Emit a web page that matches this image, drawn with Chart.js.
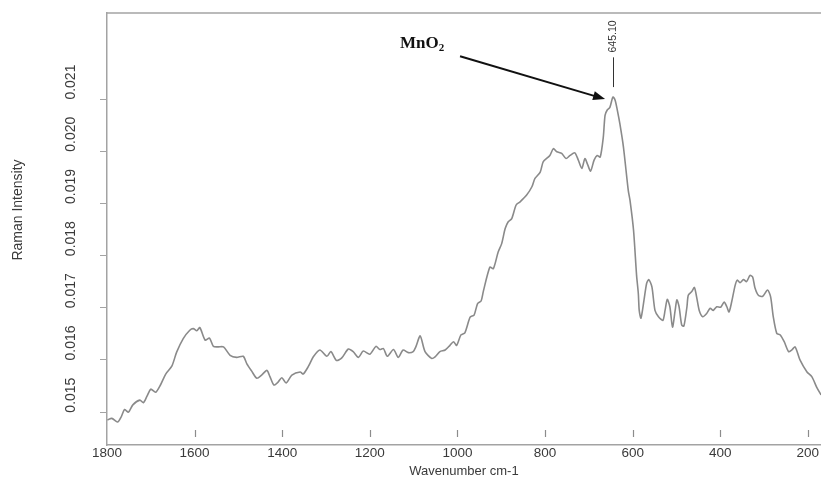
<!DOCTYPE html>
<html>
<head>
<meta charset="utf-8">
<title>Raman spectrum - MnO2</title>
<script src="https://cdn.jsdelivr.net/npm/chart.js@4.4.1/dist/chart.umd.min.js"></script>
<style>
  html, body { margin: 0; padding: 0; background: #fff; }
  #wrap { width: 821px; height: 479px; }
</style>
</head>
<body>
<div id="wrap"><canvas id="ramanChart" width="821" height="479"></canvas></div>
<script>
// ==================== DATA ====================
const wavenumbers = [
  1799, 1789, 1776, 1767, 1760, 1751, 1741, 1725, 1717, 1709,
  1700, 1689, 1678, 1666, 1652, 1641, 1626, 1611, 1603, 1595,
  1588, 1576, 1566, 1557, 1546, 1534, 1519, 1504, 1489, 1481,
  1470, 1458, 1447, 1435, 1428, 1419, 1409, 1401, 1391, 1378,
  1359, 1352, 1340, 1329, 1314, 1298, 1289, 1276, 1264, 1249,
  1238, 1226, 1215, 1200, 1186, 1177, 1169, 1160, 1146, 1135,
  1124, 1112, 1101, 1095, 1085, 1074, 1059, 1051, 1040, 1028,
  1017, 1009, 1002, 992, 983, 971, 962, 954, 946, 941,
  926, 918, 907, 899, 891, 884, 876, 866, 857, 842,
  830, 823, 811, 804, 789, 781, 773, 762, 752, 743,
  732, 724, 716, 709, 703, 696, 688, 681, 674, 667,
  663, 658, 652, 645, 640, 635, 629, 621, 610, 606,
  598, 591, 587, 585, 581, 574, 568, 563, 556, 549,
  541, 531, 526, 521, 515, 509, 503, 499, 494, 488,
  483, 476, 473, 465, 459, 454, 448, 440, 431, 423,
  416, 408, 399, 391, 385, 380, 374, 366, 361, 355,
  347, 340, 332, 326, 321, 313, 303, 292, 285, 279,
  271, 263, 254, 244, 237, 229, 218, 202, 191, 180,
  170
];
const intensities = [
  0.01485, 0.01488, 0.01481, 0.01492, 0.01505, 0.01500, 0.01514, 0.01523, 0.01518, 0.01530,
  0.01544, 0.01538, 0.01552, 0.01573, 0.01588, 0.01615, 0.01641, 0.01657, 0.01660, 0.01656,
  0.01662, 0.01638, 0.01642, 0.01626, 0.01625, 0.01625, 0.01609, 0.01605, 0.01607, 0.01593,
  0.01579, 0.01565, 0.01571, 0.01580, 0.01568, 0.01552, 0.01558, 0.01566, 0.01556, 0.01571,
  0.01577, 0.01573, 0.01588, 0.01606, 0.01619, 0.01607, 0.01616, 0.01599, 0.01604, 0.01621,
  0.01616, 0.01605, 0.01617, 0.01611, 0.01626, 0.01620, 0.01622, 0.01607, 0.01620, 0.01605,
  0.01619, 0.01614, 0.01616, 0.01625, 0.01646, 0.01616, 0.01603, 0.01606, 0.01616, 0.01619,
  0.01628, 0.01635, 0.01628, 0.01648, 0.01652, 0.01682, 0.01686, 0.01708, 0.01713, 0.01731,
  0.01778, 0.01775, 0.01807, 0.01823, 0.01852, 0.01865, 0.01871, 0.01897, 0.01903, 0.01916,
  0.01932, 0.01948, 0.01960, 0.01980, 0.01992, 0.02005, 0.01999, 0.01996, 0.01986, 0.01992,
  0.01997, 0.01983, 0.01967, 0.01986, 0.01975, 0.01962, 0.01983, 0.01992, 0.01989, 0.02027,
  0.02069, 0.02079, 0.02084, 0.02104, 0.02098, 0.02079, 0.02052, 0.02008, 0.01925, 0.01906,
  0.01849, 0.01762, 0.01727, 0.01695, 0.01680, 0.01715, 0.01747, 0.01754, 0.01740, 0.01695,
  0.01683, 0.01676, 0.01695, 0.01716, 0.01702, 0.01663, 0.01695, 0.01715, 0.01702, 0.01667,
  0.01665, 0.01702, 0.01724, 0.01731, 0.01739, 0.01721, 0.01695, 0.01683, 0.01689, 0.01699,
  0.01695, 0.01702, 0.01701, 0.01711, 0.01702, 0.01692, 0.01711, 0.01743, 0.01753, 0.01748,
  0.01754, 0.01750, 0.01762, 0.01759, 0.01739, 0.01724, 0.01722, 0.01734, 0.01721, 0.01683,
  0.01651, 0.01648, 0.01635, 0.01616, 0.01619, 0.01625, 0.01600, 0.01577, 0.01568, 0.01548,
  0.01533
];
const xTickValues = [1800, 1600, 1400, 1200, 1000, 800, 600, 400, 200];
const yTickValues = [0.015, 0.016, 0.017, 0.018, 0.019, 0.020, 0.021];
const xRange = [170, 1800];
const yRange = [0.01437, 0.02265];

// annotation : MnO2 arrow and peak marker (data units)
const peakWavenumber = 645.10;
const peakMarker = [0.02123, 0.0218];   // bottom / top of the marker line
const peakLabelAt = 0.0222;
const arrowFrom = [994, 0.02182];
const arrowTo = [663, 0.0210];
const mnLabelAt = [1131, 0.02209];

// ==================== STYLE ====================
const AXIS_COLOR = '#a3a3a3';
const TEXT_COLOR = '#3a3a3a';
const LINE_COLOR = '#8a8a8a';
const SANS = '"Liberation Sans", Arial, sans-serif';

// tick marks, frame, y title and annotation are drawn here
const spectrumDecor = {
  id: 'spectrumDecor',
  afterDraw(chart) {
    const { ctx, chartArea: area, scales: { x, y } } = chart;
    ctx.save();

    // top frame line
    ctx.strokeStyle = AXIS_COLOR;
    ctx.lineWidth = 1.5;
    ctx.beginPath();
    ctx.moveTo(area.left, area.top);
    ctx.lineTo(area.right, area.top);
    ctx.stroke();

    // x tick marks sit inside the frame, a little above the axis
    ctx.strokeStyle = '#8c8c8c';
    ctx.lineWidth = 1.2;
    xTickValues.forEach(v => {
      if (v === xRange[1]) return;
      const px = Math.round(x.getPixelForValue(v)) + 0.5;
      ctx.beginPath();
      ctx.moveTo(px, area.bottom - 15);
      ctx.lineTo(px, area.bottom - 8);
      ctx.stroke();
    });

    // y axis title
    ctx.fillStyle = TEXT_COLOR;
    ctx.font = '14px ' + SANS;
    ctx.textAlign = 'center';
    ctx.textBaseline = 'middle';
    ctx.save();
    ctx.translate(18, (area.top + area.bottom) / 2 - 19);
    ctx.rotate(-Math.PI / 2);
    ctx.fillText('Raman Intensity', 0, 0);
    ctx.restore();

    // peak marker line + label
    const pk = Math.round(x.getPixelForValue(peakWavenumber)) + 0.5;
    ctx.strokeStyle = '#333';
    ctx.lineWidth = 1;
    ctx.beginPath();
    ctx.moveTo(pk, y.getPixelForValue(peakMarker[0]));
    ctx.lineTo(pk, y.getPixelForValue(peakMarker[1]));
    ctx.stroke();
    ctx.save();
    ctx.translate(pk, y.getPixelForValue(peakLabelAt));
    ctx.rotate(-Math.PI / 2);
    ctx.font = '10.5px ' + SANS;
    ctx.fillStyle = '#333';
    ctx.fillText(peakWavenumber.toFixed(2), 0, 0);
    ctx.restore();

    // arrow
    const x0 = x.getPixelForValue(arrowFrom[0]), y0 = y.getPixelForValue(arrowFrom[1]);
    const x1 = x.getPixelForValue(arrowTo[0]), y1 = y.getPixelForValue(arrowTo[1]);
    const ang = Math.atan2(y1 - y0, x1 - x0);
    const head = 12, half = 4.5;
    ctx.strokeStyle = '#111';
    ctx.fillStyle = '#111';
    ctx.lineWidth = 2;
    ctx.beginPath();
    ctx.moveTo(x0, y0);
    ctx.lineTo(x1 - head * 0.8 * Math.cos(ang), y1 - head * 0.8 * Math.sin(ang));
    ctx.stroke();
    ctx.beginPath();
    ctx.moveTo(x1, y1);
    ctx.lineTo(x1 - head * Math.cos(ang) + half * Math.sin(ang), y1 - head * Math.sin(ang) - half * Math.cos(ang));
    ctx.lineTo(x1 - head * Math.cos(ang) - half * Math.sin(ang), y1 - head * Math.sin(ang) + half * Math.cos(ang));
    ctx.closePath();
    ctx.fill();

    // MnO2 label (subscript drawn smaller)
    const lx = x.getPixelForValue(mnLabelAt[0]), ly = y.getPixelForValue(mnLabelAt[1]);
    ctx.textAlign = 'left';
    ctx.textBaseline = 'alphabetic';
    ctx.font = 'bold 17px "Liberation Serif", "Times New Roman", serif';
    ctx.fillText('MnO', lx, ly + 6);
    const w = ctx.measureText('MnO').width;
    ctx.font = 'bold 11px "Liberation Serif", "Times New Roman", serif';
    ctx.fillText('2', lx + w, ly + 9);

    ctx.restore();
  }
};

// ==================== CHART ====================
const ctx = document.getElementById('ramanChart').getContext('2d');
const chart = new Chart(ctx, {
  type: 'line',
  data: {
    datasets: [{
      label: 'Raman Intensity',
      data: wavenumbers.map((w, i) => ({ x: w, y: intensities[i] })),
      borderColor: LINE_COLOR,
      borderWidth: 1.6,
      pointRadius: 0,
      tension: 0.25,
      fill: false
    }]
  },
  options: {
    responsive: false,
    animation: false,
    devicePixelRatio: 1,
    layout: { padding: { top: 13, left: 0, right: 0, bottom: 0 } },
    plugins: {
      legend: { display: false },
      tooltip: { enabled: false }
    },
    scales: {
      x: {
        type: 'linear',
        reverse: true,
        min: xRange[0],
        max: xRange[1],
        afterBuildTicks: s => { s.ticks = xTickValues.map(value => ({ value })); },
        afterFit: s => { s.height = 34; s.paddingLeft = 0; s.paddingRight = 0; },
        border: { display: true, color: AXIS_COLOR, width: 1.5 },
        grid: { display: true, drawOnChartArea: false, drawTicks: false },
        ticks: {
          autoSkip: false,
          maxRotation: 0,
          padding: 0,
          color: TEXT_COLOR,
          font: { family: SANS, size: 13.5 },
          callback: v => String(v)
        },
        title: {
          display: true,
          text: 'Wavenumber cm-1',
          color: TEXT_COLOR,
          font: { family: SANS, size: 13 },
          padding: { top: 0, bottom: 0 }
        }
      },
      y: {
        type: 'linear',
        min: yRange[0],
        max: yRange[1],
        afterBuildTicks: s => { s.ticks = yTickValues.map(value => ({ value })); },
        afterFit: s => { s.width = 107; s.paddingTop = 0; s.paddingBottom = 0; },
        border: { display: true, color: AXIS_COLOR, width: 1.5 },
        grid: { display: true, drawOnChartArea: false, drawTicks: true, tickLength: 7, color: AXIS_COLOR },
        ticks: {
          minRotation: 90,
          maxRotation: 90,
          crossAlign: 'center',
          padding: 11,
          labelOffset: -17,
          color: TEXT_COLOR,
          font: { family: SANS, size: 14 },
          callback: v => v.toFixed(3)
        }
      }
    }
  },
  plugins: [spectrumDecor]
});
</script>
</body>
</html>
